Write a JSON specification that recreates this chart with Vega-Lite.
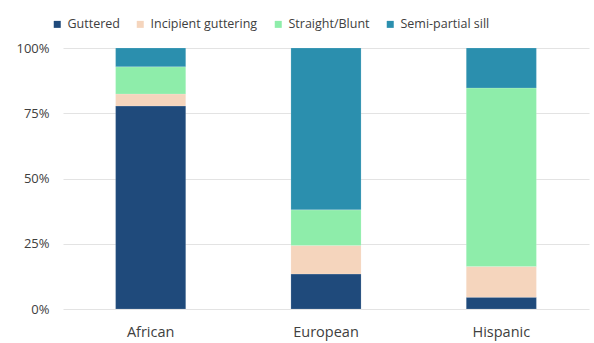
{
  "$schema": "https://vega.github.io/schema/vega-lite/v6.json",
  "width": 526,
  "height": 261,
  "autosize": {"type": "none"},
  "padding": {"left": 63, "top": 48, "right": 5, "bottom": 34},
  "background": "white",
  "data": {
    "values": [
      {"group": "African", "shape": "Guttered", "rank": 1, "pct": 77.8},
      {"group": "African", "shape": "Incipient guttering", "rank": 2, "pct": 4.6},
      {"group": "African", "shape": "Straight/Blunt", "rank": 3, "pct": 10.4},
      {"group": "African", "shape": "Semi-partial sill", "rank": 4, "pct": 7.2},
      {"group": "European", "shape": "Guttered", "rank": 1, "pct": 13.4},
      {"group": "European", "shape": "Incipient guttering", "rank": 2, "pct": 10.9},
      {"group": "European", "shape": "Straight/Blunt", "rank": 3, "pct": 13.7},
      {"group": "European", "shape": "Semi-partial sill", "rank": 4, "pct": 62.0},
      {"group": "Hispanic", "shape": "Guttered", "rank": 1, "pct": 4.5},
      {"group": "Hispanic", "shape": "Incipient guttering", "rank": 2, "pct": 11.8},
      {"group": "Hispanic", "shape": "Straight/Blunt", "rank": 3, "pct": 68.4},
      {"group": "Hispanic", "shape": "Semi-partial sill", "rank": 4, "pct": 15.3}
    ]
  },
  "mark": {"type": "bar", "stroke": "#ffffff", "strokeWidth": 0.3, "strokeOpacity": 0.5},
  "encoding": {
    "x": {
      "field": "group",
      "type": "nominal",
      "title": null,
      "sort": ["African", "European", "Hispanic"],
      "scale": {"paddingInner": 0.6, "paddingOuter": 0.3},
      "axis": {
        "labelAngle": 0,
        "domain": false,
        "ticks": false,
        "tickSize": 0,
        "labelPadding": 16,
        "labelFont": "Open Sans",
        "labelFontSize": 14.5,
        "labelColor": "#404040"
      }
    },
    "y": {
      "field": "pct",
      "type": "quantitative",
      "stack": "normalize",
      "title": null,
      "axis": {
        "values": [0, 0.25, 0.5, 0.75, 1],
        "format": ".0%",
        "domain": false,
        "ticks": false,
        "tickSize": 0,
        "labelPadding": 14,
        "labelFont": "Open Sans",
        "labelFontSize": 13,
        "labelColor": "#404040",
        "gridColor": "#e3e3e3",
        "gridWidth": 1
      }
    },
    "order": {"field": "rank", "type": "quantitative", "sort": "ascending"},
    "color": {
      "field": "shape",
      "type": "nominal",
      "sort": ["Guttered", "Incipient guttering", "Straight/Blunt", "Semi-partial sill"],
      "scale": {
        "domain": ["Guttered", "Incipient guttering", "Straight/Blunt", "Semi-partial sill"],
        "range": ["#1f4a7b", "#f5d5bd", "#8eedaa", "#2b8fae"]
      },
      "legend": {
        "title": null,
        "orient": "none",
        "direction": "horizontal",
        "legendX": -12,
        "legendY": -30,
        "symbolType": "square",
        "symbolSize": 49,
        "symbolStrokeWidth": 0,
        "labelFont": "Open Sans",
        "labelFontSize": 12.5,
        "labelColor": "#404040",
        "labelOffset": 4,
        "columnPadding": 14
      }
    }
  },
  "config": {"view": {"stroke": null}}
}
